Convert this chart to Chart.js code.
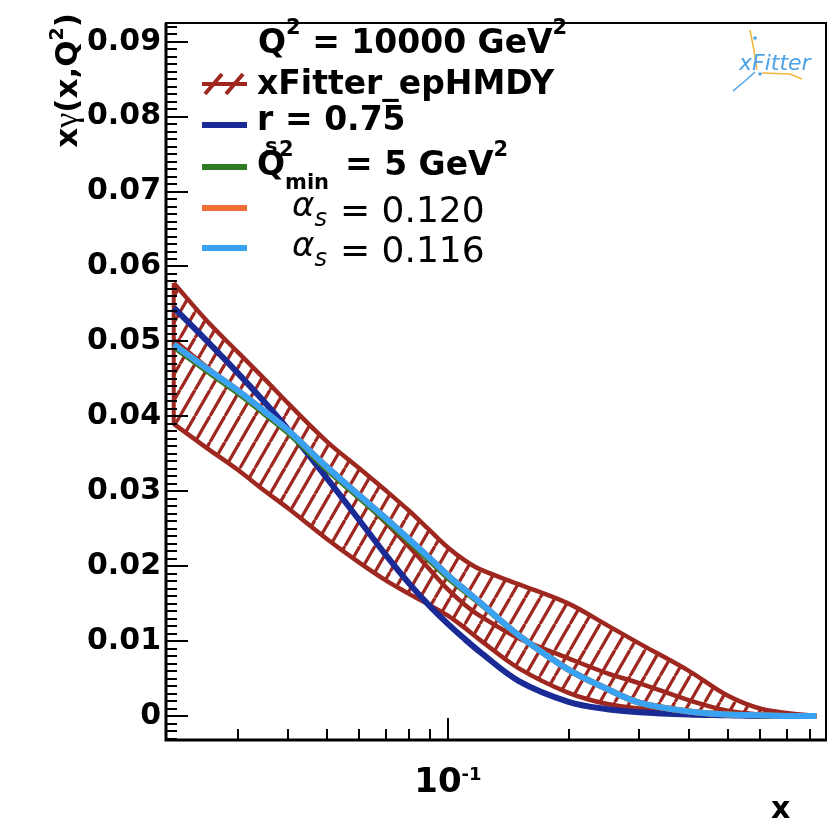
<!DOCTYPE html>
<html><head><meta charset="utf-8">
<script src="https://cdn.jsdelivr.net/npm/chart.js@4.4.1/dist/chart.umd.min.js"></script>
<style>html,body{margin:0;padding:0;background:#fff;}canvas{display:block;}</style>
</head><body>
<canvas id="c" width="828" height="821"></canvas>
<script>
// ---- data ----
const X_VALUES     = [0.0207, 0.025, 0.03, 0.035, 0.04, 0.05, 0.06, 0.07, 0.08, 0.09, 0.1, 0.11, 0.12, 0.15, 0.2, 0.25, 0.3, 0.4, 0.5, 0.6, 0.7, 0.83];
const BAND_UPPER   = [0.0578, 0.0528, 0.0485, 0.0449, 0.0417, 0.0366, 0.0331, 0.0301, 0.0274, 0.0248, 0.0225, 0.0208, 0.0196, 0.0176, 0.0150, 0.0121, 0.0097, 0.0060, 0.0027, 0.0010, 0.0004, 0.0];
const BAND_LOWER   = [0.0390, 0.0358, 0.0328, 0.0300, 0.0277, 0.0236, 0.0205, 0.0181, 0.0163, 0.0148, 0.0134, 0.0118, 0.0102, 0.0064, 0.0031, 0.0016, 0.0010, 0.0004, 0.0001, 0.0, 0.0, 0.0];
const BAND_CENTRAL = [0.0502, 0.0466, 0.0432, 0.0405, 0.0378, 0.0333, 0.0293, 0.0258, 0.0226, 0.0196, 0.0169, 0.0149, 0.0134, 0.0104, 0.0077, 0.0057, 0.0044, 0.0021, 0.0007, 0.0002, 0.0001, 0.0];
const RS_075       = [0.0545, 0.0501, 0.0457, 0.0418, 0.0382, 0.0317, 0.0262, 0.0215, 0.0177, 0.0147, 0.0123, 0.0103, 0.0086, 0.0047, 0.0019, 0.0009, 0.0005, 0.0002, 0.0001, 0.0, 0.0, 0.0];
const QMIN_5       = [0.0493, 0.0461, 0.0431, 0.0403, 0.0378, 0.0329, 0.0292, 0.0261, 0.0233, 0.0208, 0.0185, 0.0167, 0.0151, 0.0108, 0.0062, 0.0036, 0.0018, 0.0006, 0.0002, 0.0001, 0.0, 0.0];
const AS_0120      = [0.0496, 0.0464, 0.0434, 0.0406, 0.0381, 0.0332, 0.0295, 0.0264, 0.0236, 0.0211, 0.0188, 0.0169, 0.0152, 0.0108, 0.0062, 0.0036, 0.0018, 0.0006, 0.0002, 0.0001, 0.0, 0.0];
const AS_0116      = [0.0496, 0.0464, 0.0434, 0.0406, 0.0381, 0.0332, 0.0295, 0.0264, 0.0236, 0.0211, 0.0188, 0.0169, 0.0152, 0.0108, 0.0062, 0.0036, 0.0018, 0.0006, 0.0002, 0.0001, 0.0, 0.0];

const Y_TICKS       = [0, 0.01, 0.02, 0.03, 0.04, 0.05, 0.06, 0.07, 0.08, 0.09];
const Y_TICK_LABELS = ['0', '0.01', '0.02', '0.03', '0.04', '0.05', '0.06', '0.07', '0.08', '0.09'];
const X_TICKS       = [0.1];
const X_TICK_BASE   = ['10'];
const X_TICK_EXP    = ['-1'];
const X_MINOR_TICKS = [0.03, 0.04, 0.05, 0.06, 0.07, 0.08, 0.09, 0.2, 0.3, 0.4, 0.5, 0.6, 0.7, 0.8];

const X_MIN = 0.0198, X_MAX = 0.883, Y_MIN = -0.0032, Y_MAX = 0.0925;

const RED = '#9e2820', BLUE = '#1b2b96', GREEN = '#2f7a22', ORANGE = '#ef6f36', CYAN = '#3aa2f2';
const SERIES_LABELS = ['xFitter_epHMDY', 'r_s = 0.75', 'Q2_min = 5 GeV2', 'alpha_s = 0.120', 'alpha_s = 0.116'];

function pts(ys){ return X_VALUES.map((x,i)=>({x:x, y:ys[i]})); }

function hatchPattern(){
  const W = 15, H = 26;
  const c = document.createElement('canvas'); c.width = W; c.height = H;
  const g = c.getContext('2d');
  g.strokeStyle = RED; g.lineWidth = 3.3;
  for (let k=-1;k<=1;k++){ g.beginPath(); g.moveTo(k*W, H); g.lineTo(k*W+W, 0); g.stroke(); }
  return g.createPattern(c, 'repeat');
}

const FB = 'DejaVu Sans';
function put(ctx, s, x, y, font){ ctx.font = font; ctx.fillText(s, x, y); return ctx.measureText(s).width; }
function wid(ctx, s, font){ ctx.font = font; return ctx.measureText(s).width; }

const deco = {
  id: 'deco',
  beforeDatasetsDraw(chart){
    const {ctx, scales:{x, y}} = chart;
    ctx.save();
    ctx.strokeStyle = RED; ctx.lineWidth = 4;
    const px = x.getPixelForValue(X_VALUES[0]);
    ctx.beginPath();
    ctx.moveTo(px, y.getPixelForValue(BAND_UPPER[0]));
    ctx.lineTo(px, y.getPixelForValue(BAND_LOWER[0]));
    ctx.stroke();
    ctx.restore();
  },
  afterDraw(chart){
    const {ctx, chartArea:a, scales:{x, y}} = chart;
    ctx.save();
    ctx.fillStyle = '#000'; ctx.strokeStyle = '#000';
    // frame
    ctx.lineWidth = 2;
    ctx.strokeRect(a.left, a.top, a.right - a.left - 1, a.bottom - a.top);
    ctx.lineWidth = 3;
    ctx.beginPath(); ctx.moveTo(a.left, a.top); ctx.lineTo(a.left, a.bottom); ctx.lineTo(a.right, a.bottom); ctx.stroke();
    // y ticks
    ctx.lineWidth = 2;
    for (let k = Math.ceil(Y_MIN/0.001); k <= Math.floor(Y_MAX/0.001); k++){
      const py = Math.round(y.getPixelForValue(k*0.001));
      const major = (k % 10 === 0);
      ctx.beginPath(); ctx.moveTo(a.left, py); ctx.lineTo(a.left + (major ? 22 : 11), py); ctx.stroke();
    }
    // x ticks
    X_TICKS.forEach(v=>{ const px = Math.round(x.getPixelForValue(v)); ctx.beginPath(); ctx.moveTo(px, a.bottom); ctx.lineTo(px, a.bottom-22); ctx.stroke(); });
    X_MINOR_TICKS.forEach(v=>{ const px = Math.round(x.getPixelForValue(v)); ctx.beginPath(); ctx.moveTo(px, a.bottom); ctx.lineTo(px, a.bottom-11); ctx.stroke(); });
    // x tick labels 10^-1
    ctx.textAlign = 'left'; ctx.textBaseline = 'alphabetic';
    X_TICKS.forEach((v,i)=>{
      const px = x.getPixelForValue(v);
      const wb = wid(ctx, X_TICK_BASE[i], 'bold 34px ' + FB);
      const we = wid(ctx, X_TICK_EXP[i], 'bold 18px ' + FB);
      const x0 = px - (wb + we)/2;
      put(ctx, X_TICK_BASE[i], x0, 792, 'bold 34px ' + FB);
      put(ctx, X_TICK_EXP[i], x0 + wb, 780, 'bold 18px ' + FB);
    });
    // x title
    put(ctx, 'x', 771, 818, 'bold 30px ' + FB);
    // y title rotated
    ctx.save();
    ctx.translate(77, 13); ctx.rotate(-Math.PI/2);
    const TF = 'bold 31px ' + FB, GF = '34px "Liberation Serif"', SF = 'bold 19px ' + FB;
    const tot = wid(ctx,'x',TF) + wid(ctx,'γ',GF) + wid(ctx,'(x,Q',TF) + wid(ctx,'2',SF) + wid(ctx,')',TF);
    let xx = -tot;
    xx += put(ctx, 'x', xx, 0, TF);
    xx += put(ctx, 'γ', xx, 0, GF);
    xx += put(ctx, '(x,Q', xx, 0, TF);
    xx += put(ctx, '2', xx, -14, SF);
    put(ctx, ')', xx, 0, TF);
    ctx.restore();

    // legend
    const LB = 'bold 33px ' + FB, LS = 'bold 21px ' + FB;
    let cx = 258;
    cx += put(ctx, 'Q', cx, 53, LB);
    cx += put(ctx, '2', cx, 34, LS);
    cx += put(ctx, ' = 10000 GeV', cx, 53, LB);
    put(ctx, '2', cx, 34, LS);

    // symbols
    ctx.lineCap = 'butt';
    ctx.strokeStyle = RED; ctx.lineWidth = 4;
    ctx.beginPath(); ctx.moveTo(202, 84); ctx.lineTo(247, 84); ctx.stroke();
    ctx.beginPath(); ctx.moveTo(205, 94); ctx.lineTo(222, 74); ctx.moveTo(226, 94); ctx.lineTo(243, 74); ctx.stroke();
    const lineSym = (col, yy)=>{ ctx.strokeStyle = col; ctx.lineWidth = 6; ctx.beginPath(); ctx.moveTo(202, yy); ctx.lineTo(247, yy); ctx.stroke(); };
    lineSym(BLUE, 125); lineSym(GREEN, 167); lineSym(ORANGE, 208); lineSym(CYAN, 248);

    ctx.fillStyle = '#000';
    put(ctx, 'xFitter_epHMDY', 257, 94, LB);
    put(ctx, 'r', 257, 130, LB);
    put(ctx, 's', 265, 153, LS);
    put(ctx, '= 0.75', 285, 130, LB);
    put(ctx, 'Q', 257, 175, LB);
    put(ctx, '2', 279, 156, LS);
    put(ctx, 'min', 285, 189, LS);
    cx = 345;
    cx += put(ctx, '= 5 GeV', cx, 175, LB);
    put(ctx, '2', cx, 156, LS);
    const rowA = (val, base)=>{
      let c2 = 292;
      c2 += put(ctx, 'α', c2, base - 6, 'italic 34px ' + FB);
      put(ctx, 's', c2, base + 4, 'italic 24px ' + FB);
      put(ctx, '= ' + val, 340, base, '36px ' + FB);
    };
    rowA('0.120', 222);
    rowA('0.116', 262);

    // logo
    ctx.lineWidth = 1.5; ctx.strokeStyle = '#f1b73a';
    ctx.beginPath(); ctx.moveTo(750, 30); ctx.lineTo(754, 50); ctx.lineTo(757, 70); ctx.stroke();
    ctx.beginPath(); ctx.moveTo(762, 73); ctx.lineTo(790, 74); ctx.lineTo(802, 79); ctx.stroke();
    ctx.strokeStyle = '#4da3e6';
    ctx.beginPath(); ctx.moveTo(733, 91); ctx.lineTo(745, 81); ctx.lineTo(755, 72); ctx.stroke();
    ctx.fillStyle = '#4da3e6';
    ctx.beginPath(); ctx.arc(755, 38, 1.8, 0, 2*Math.PI); ctx.fill();
    ctx.beginPath(); ctx.arc(760, 74, 1.8, 0, 2*Math.PI); ctx.fill();
    put(ctx, 'xFitter', 739, 70, 'italic 22px ' + FB);
    ctx.restore();
  }
};

const common = { pointRadius: 0, fill: false, tension: 0.35, borderCapStyle: 'butt', borderJoinStyle: 'round' };

new Chart(document.getElementById('c').getContext('2d'), {
  type: 'line',
  data: {
    datasets: [
      Object.assign({}, common, { label: SERIES_LABELS[0], data: pts(BAND_UPPER), borderColor: RED, borderWidth: 4.5, backgroundColor: hatchPattern(), fill: '+1', order: 6 }),
      Object.assign({}, common, { label: SERIES_LABELS[0] + ' lower', data: pts(BAND_LOWER), borderColor: RED, borderWidth: 4.5, order: 6 }),
      Object.assign({}, common, { label: SERIES_LABELS[0] + ' central', data: pts(BAND_CENTRAL), borderColor: RED, borderWidth: 4.5, order: 5 }),
      Object.assign({}, common, { label: SERIES_LABELS[1], data: pts(RS_075), borderColor: BLUE, borderWidth: 6, order: 3 }),
      Object.assign({}, common, { label: SERIES_LABELS[2], data: pts(QMIN_5), borderColor: GREEN, borderWidth: 6, order: 2 }),
      Object.assign({}, common, { label: SERIES_LABELS[3], data: pts(AS_0120), borderColor: ORANGE, borderWidth: 6, order: 1 }),
      Object.assign({}, common, { label: SERIES_LABELS[4], data: pts(AS_0116), borderColor: CYAN, borderWidth: 6, order: 0 })
    ]
  },
  options: {
    responsive: false, animation: false, devicePixelRatio: 1,
    layout: { padding: { top: 14, right: 1, left: 0, bottom: 0 } },
    plugins: { legend: { display: false }, tooltip: { enabled: false } },
    scales: {
      x: {
        type: 'logarithmic', min: X_MIN, max: X_MAX,
        grid: { display: false }, border: { display: false },
        ticks: { display: false },
        afterBuildTicks(s){ s.ticks = X_TICKS.map(v=>({value:v})); },
        afterFit(s){ s.height = 81; }
      },
      y: {
        type: 'linear', min: Y_MIN, max: Y_MAX,
        grid: { display: false, drawTicks: false }, border: { display: false },
        ticks: { color: '#000', padding: 5, font: { family: FB, weight: 'bold', size: 30 },
                 callback: (v, i) => Y_TICK_LABELS[i] },
        afterBuildTicks(s){ s.ticks = Y_TICKS.map(v=>({value:v})); },
        afterFit(s){ s.width = 166; }
      }
    }
  },
  plugins: [deco]
});
</script>
</body></html>
